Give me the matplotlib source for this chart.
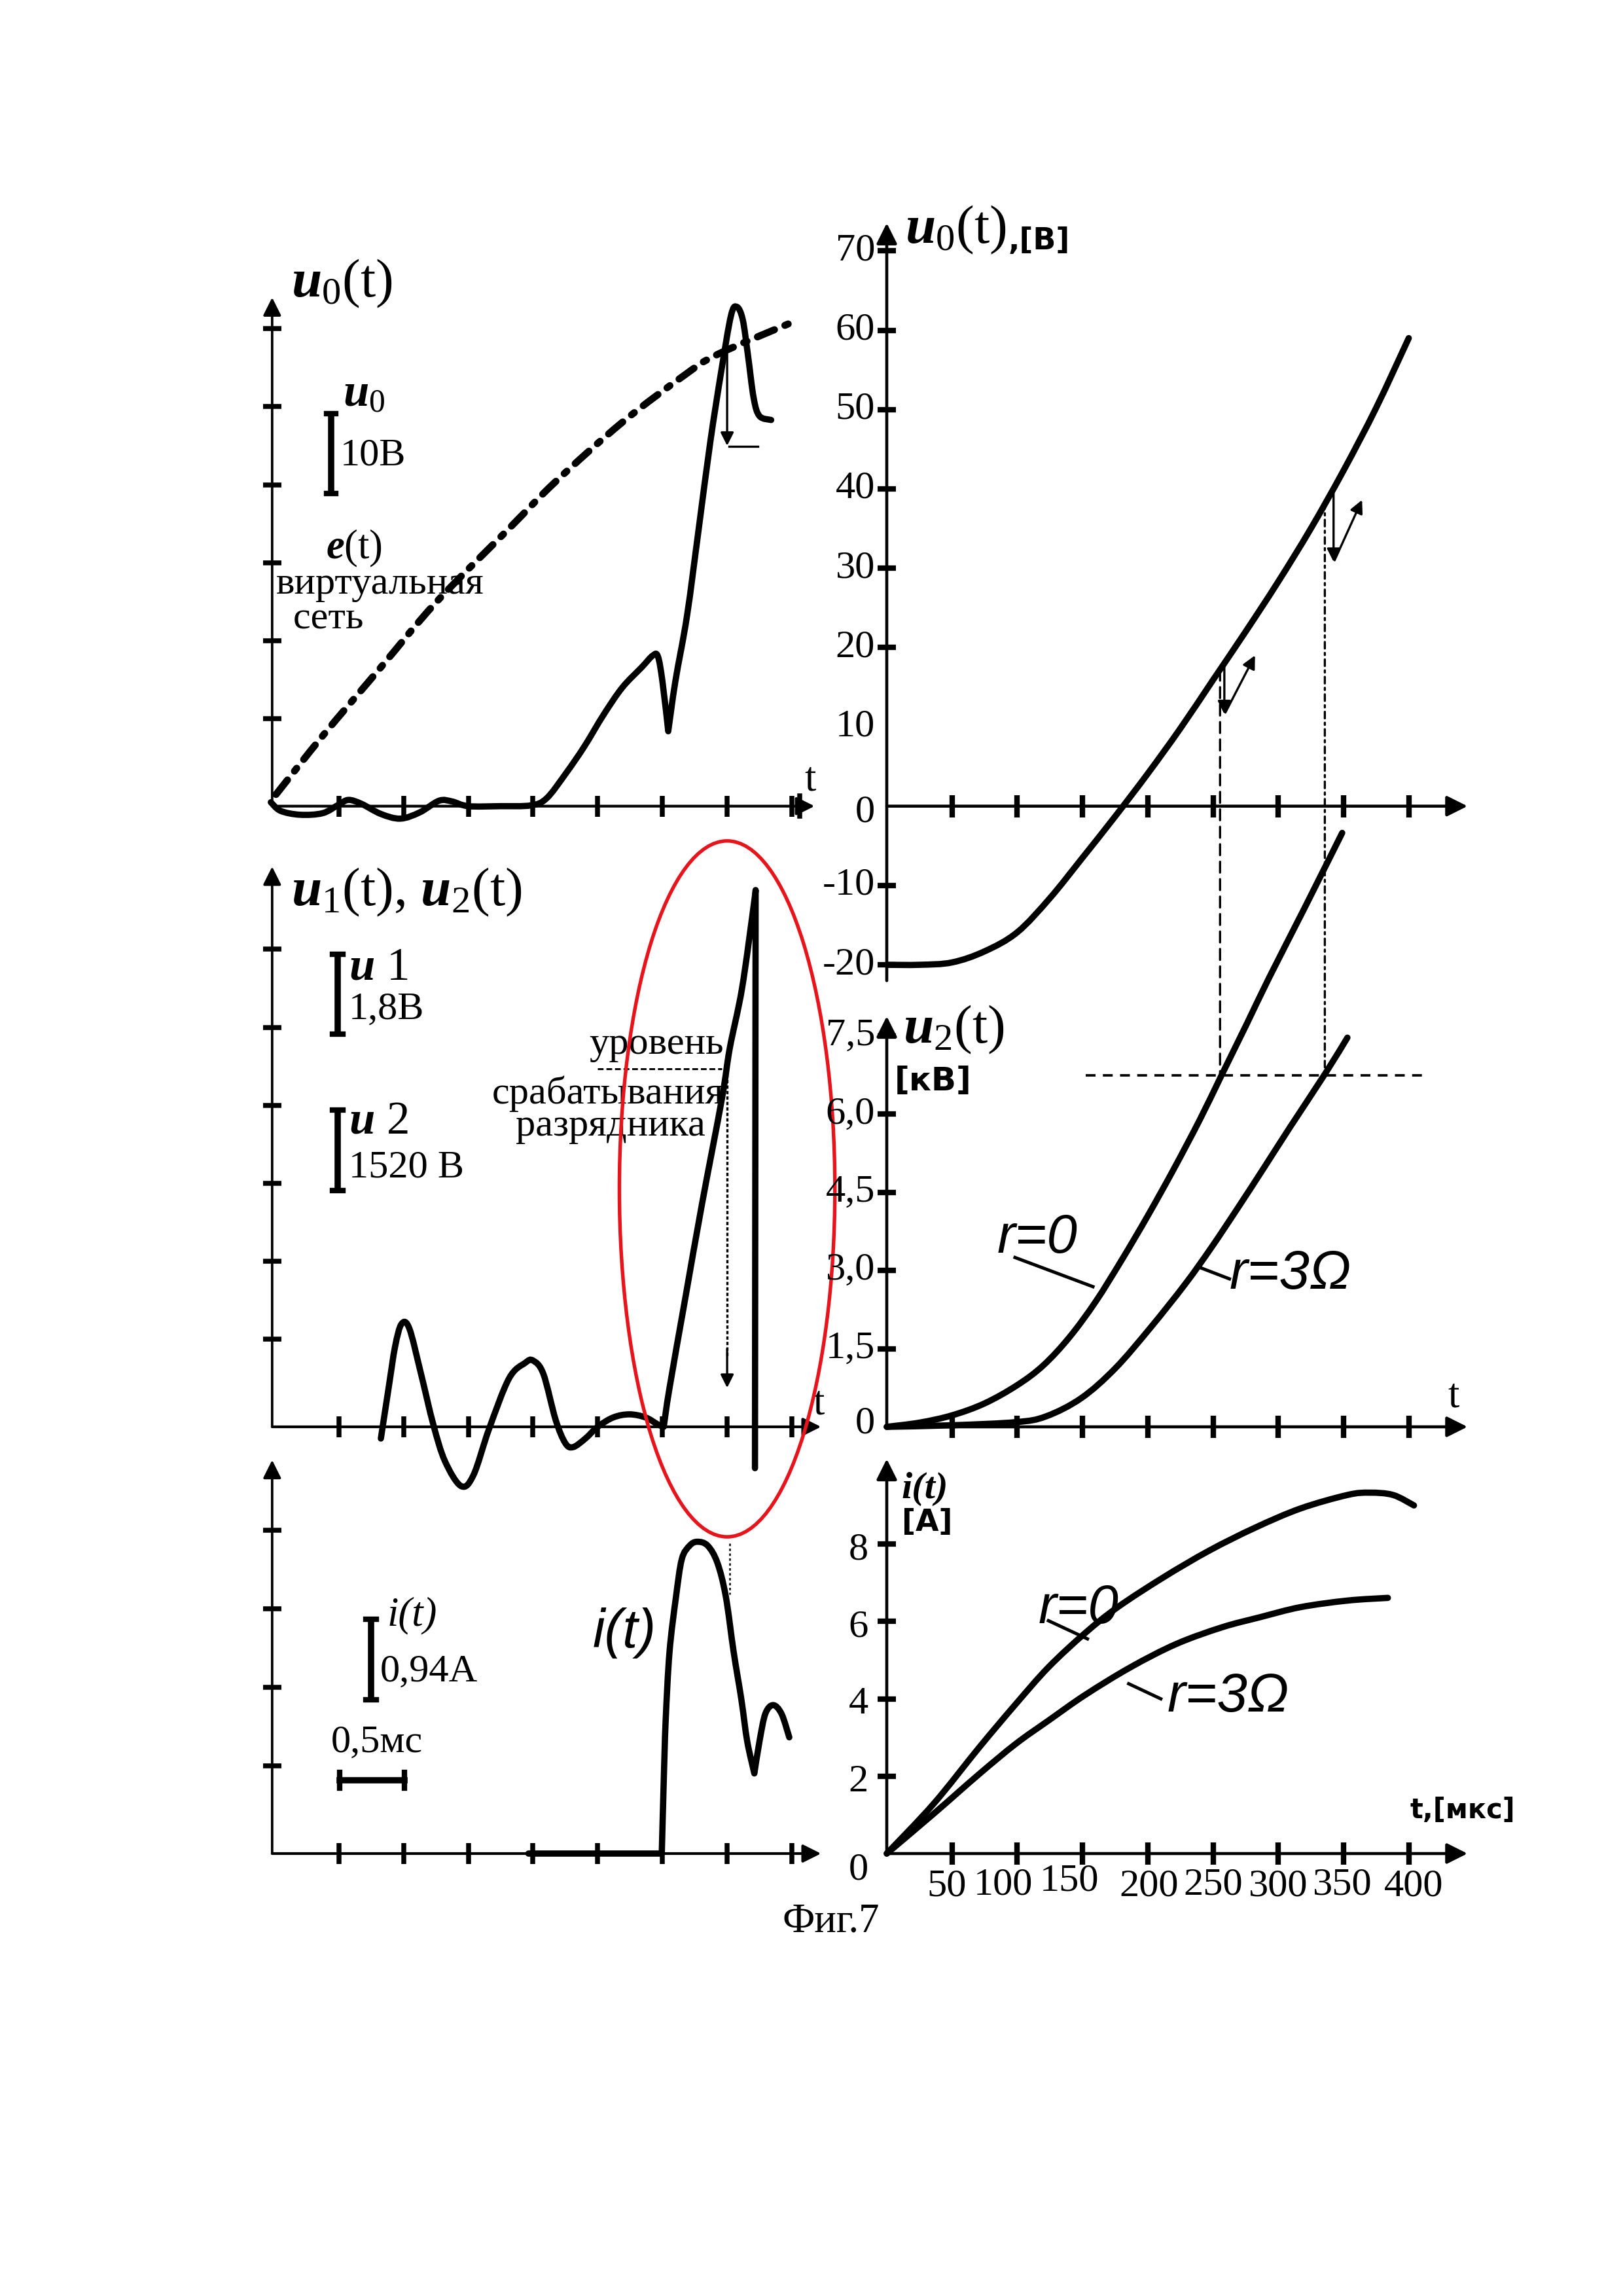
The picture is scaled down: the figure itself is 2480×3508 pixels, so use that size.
import numpy as np
import matplotlib
matplotlib.use("Agg")
import matplotlib.pyplot as plt
from matplotlib.patches import Ellipse, ConnectionPatch, PathPatch
from matplotlib.path import Path

plt.rcParams['font.family'] = ['Liberation Serif', 'DejaVu Serif']
plt.rcParams['mathtext.fontset'] = 'custom'
plt.rcParams['mathtext.rm'] = 'Liberation Serif'
plt.rcParams['mathtext.it'] = 'Liberation Serif:italic:bold'
plt.rcParams['mathtext.bf'] = 'Liberation Serif:bold'

# ---------------- data ----------------
# left column: x and y in tick units
u0_x = [-0.05, 0.1, 0.4, 0.75, 1.0, 1.15, 1.35, 1.65, 1.95, 2.25, 2.55, 2.75, 3.0, 3.5,
        3.97, 4.21, 4.5, 4.79, 5.09, 5.38, 5.68, 5.85, 5.93, 6.0, 6.09, 6.2, 6.38, 6.56,
        6.74, 6.91, 7.06, 7.15, 7.24, 7.32, 7.41, 7.5, 7.68]
u0_y = [0.05, -0.06, -0.11, -0.09, 0.02, 0.08, 0.03, -0.1, -0.16, -0.08, 0.07, 0.06, 0.0, 0.0,
        0.01, 0.1, 0.41, 0.76, 1.17, 1.52, 1.78, 1.93, 1.92, 1.6, 0.96, 1.6, 2.44, 3.55,
        4.67, 5.58, 6.29, 6.4, 6.24, 5.79, 5.23, 5.0, 4.95]
e_x = [0.03, 0.76, 1.62, 2.5, 3.62, 4.35, 5.38, 6.35, 6.85, 7.97]
e_y = [0.15, 0.91, 1.75, 2.61, 3.55, 4.16, 4.92, 5.53, 5.79, 6.19]

u12_x = [1.65, 1.77, 1.87, 1.97, 2.09, 2.27, 2.46, 2.64, 2.89, 3.08, 3.32, 3.63, 3.88, 4.0,
         4.16, 4.35, 4.5, 4.62, 4.81, 5.0, 5.24, 5.49, 5.74, 5.93, 6.02, 6.11, 6.36, 6.61,
         6.92, 7.04, 7.23, 7.41, 7.44, 7.43]
u12_y = [-0.15, 0.5, 1.03, 1.32, 1.26, 0.68, 0.03, -0.44, -0.76, -0.62, -0.03, 0.62, 0.82, 0.85,
         0.68, 0.09, -0.21, -0.26, -0.15, 0.0, 0.12, 0.16, 0.12, 0.03, 0.0, 0.5, 1.68, 2.85,
         4.21, 4.85, 5.62, 6.68, 6.88, -0.53]

il_x = [3.93, 5.99, 6.02, 6.05, 6.11, 6.21, 6.3, 6.42, 6.54, 6.7, 6.85, 6.98, 7.1, 7.22,
        7.31, 7.42, 7.5, 7.59, 7.71, 7.84, 7.96]
il_y = [0.0, 0.0, 0.91, 1.69, 2.57, 3.27, 3.75, 3.92, 3.97, 3.92, 3.7, 3.27, 2.57, 1.96,
        1.43, 1.02, 1.43, 1.78, 1.89, 1.78, 1.48]

left_xticks = [1, 2, 3, 4, 5, 6, 7, 8]

# right column: t in microseconds
u0r_t = [0, 25, 50, 75, 100, 125, 150, 175, 200, 225, 250, 275, 300, 325, 350, 375, 400]
u0r_v = [-20, -20, -19.7, -18.3, -15.9, -11.6, -6.5, -1.3, 4.1, 9.8, 15.9, 22.0, 28.3,
         35.0, 42.3, 50.2, 59.0]

u2_r0_t = [0, 25, 50, 75, 100, 120, 140, 160, 180, 200, 220, 240, 256, 276, 293, 320, 349]
u2_r0_kv = [0, 0.08, 0.22, 0.45, 0.8, 1.18, 1.72, 2.4, 3.2, 4.05, 4.95, 5.9, 6.72, 7.74,
            8.62, 9.95, 11.4]
u2_r3_t = [0, 50, 99, 122, 149, 175, 202, 229, 249, 269, 289, 309, 336, 353]
u2_r3_kv = [0, 0.03, 0.09, 0.2, 0.55, 1.12, 1.9, 2.75, 3.45, 4.2, 4.97, 5.75, 6.78, 7.47]

i_r0_t = [0, 36, 71, 99, 124, 152, 177, 212, 247, 282, 317, 353, 370, 388, 404]
i_r0_a = [0, 1.29, 2.75, 3.87, 4.82, 5.70, 6.37, 7.14, 7.83, 8.42, 8.92, 9.27, 9.33, 9.27, 9.0]
i_r3_t = [0, 36, 71, 99, 124, 152, 187, 222, 257, 286, 317, 353, 384]
i_r3_a = [0, 1.03, 2.06, 2.84, 3.44, 4.1, 4.82, 5.42, 5.85, 6.11, 6.37, 6.54, 6.61]

right_xticks = [50, 100, 150, 200, 250, 300, 350, 400]
right_xlabels = ['50', '100', '150', '200', '250', '300', '350', '400']
u0r_ticks = [70, 60, 50, 40, 30, 20, -10, -20]
u0r_labels = ['70', '60', '50', '40', '30', '20', '10', '0', '-10', '-20']
u0r_label_pos = [70, 60, 50, 40, 30, 20, 10, 0, -10, -20]
u2_ticks = [7.5, 6.0, 4.5, 3.0, 1.5]
u2_labels = ['7,5', '6,0', '4,5', '3,0', '1,5']
i_ticks = [8, 6, 4, 2]
i_labels = ['8', '6', '4', '2']

# ---------------- figure ----------------
W, H = 2480, 3508
fig = plt.figure(figsize=(W / 300, H / 300), dpi=300)
fig.patch.set_facecolor('white')


def panel(x0, y0, sx, sy, xlim, ylim):
    # x0, y0: pixel of data origin; sx, sy: pixels per data unit
    left = x0 + xlim[0] * sx
    right = x0 + xlim[1] * sx
    top = y0 - ylim[1] * sy
    bottom = y0 - ylim[0] * sy
    ax = fig.add_axes([left / W, 1 - bottom / H, (right - left) / W, (bottom - top) / H])
    ax.set_xlim(*xlim)
    ax.set_ylim(*ylim)
    ax.axis('off')
    return ax


def arrow(ax, start, end, lw=1.0, ms=16):
    ax.annotate('', xy=end, xytext=start,
                arrowprops=dict(arrowstyle='-|>', lw=lw, color='k', mutation_scale=ms,
                                shrinkA=0, shrinkB=0))


def smooth(ax, xs, ys, breaks=(), lw=2.3, ls='-'):
    # draw the read points as a smooth (Catmull-Rom / Bezier) path; sharp corners at breaks
    pts = np.column_stack([xs, ys]).astype(float)
    idx = [0] + sorted(breaks) + [len(pts) - 1]
    verts, codes = [pts[0]], [Path.MOVETO]
    for a, b in zip(idx[:-1], idx[1:]):
        seg = pts[a:b + 1]
        n = len(seg)
        for i in range(n - 1):
            p0 = seg[i - 1] if i > 0 else seg[i]
            p1, p2 = seg[i], seg[i + 1]
            p3 = seg[i + 2] if i + 2 < n else seg[i + 1]
            verts += [p1 + (p2 - p0) / 6, p2 - (p3 - p1) / 6, p2]
            codes += [Path.CURVE4] * 3
    ax.add_patch(PathPatch(Path(verts, codes), fill=False, ec='k', lw=lw, ls=ls,
                           capstyle='round', joinstyle='round'))


def scale_bar(ax, x, y0, y1, cap):
    ax.plot([x, x], [y0, y1], color='k', lw=2.3, solid_capstyle='butt')
    ax.plot([x - cap, x + cap], [y0, y0], color='k', lw=2.0)
    ax.plot([x - cap, x + cap], [y1, y1], color='k', lw=2.0)


SANS_I = dict(family='Liberation Sans', style='italic')

# ---- left column ----
LX0, LSX = 418.8, 98.9
ax_tl = panel(LX0, 1231.7, LSX, 119.2, (-0.4, 8.9), (-0.6, 7.3))
ax_ml = panel(LX0, 2180, LSX, 119.2, (-0.4, 9.0), (-1.6, 7.7))
ax_bl = panel(LX0, 2832, LSX, 120, (-0.4, 9.0), (-0.6, 5.3))

for ax, ytop, xend, nyt in [(ax_tl, 6.52, 8.35, 6), (ax_ml, 7.18, 8.45, 6), (ax_bl, 5.01, 8.45, 4)]:
    arrow(ax, (-0.03, 0), (-0.03, ytop), lw=0.9, ms=14)
    arrow(ax, (-0.03, 0), (xend, 0), lw=1.0, ms=14)
    ax.plot(left_xticks, np.zeros(len(left_xticks)), ls='none', marker='|', ms=7.5,
            mew=1.8, color='k')
    yt = [k + 0.12 for k in range(1, nyt + 1)]
    ax.plot(np.full(len(yt), -0.03), yt, ls='none', marker='_', ms=6.5, mew=1.8, color='k')

# top-left: u0(t) and e(t)
smooth(ax_tl, u0_x, u0_y, breaks=[24])
smooth(ax_tl, e_x, e_y, lw=2.6, ls=(0, (2.6, 1.6, 0.5, 1.6)))
ax_tl.plot([8.12, 8.12], [-0.13, 0.13], color='k', lw=1.8)
arrow(ax_tl, (7.0, 5.99), (7.0, 4.62), lw=0.8, ms=10)
ax_tl.plot([7.03, 7.47], [4.61, 4.61], color='k', lw=0.8)
ax_tl.text(0.26, 6.7, r'$u_0$(t)', fontsize=20, va='center')
ax_tl.text(1.06, 5.27, r'$u_0$', fontsize=17, va='center')
scale_bar(ax_tl, 0.88, 4.01, 5.03, 0.07)
ax_tl.text(1.02, 4.49, '10В', fontsize=14.5, va='center')
ax_tl.text(0.8, 3.3, r'$e$(t)', fontsize=15, va='center')
ax_tl.text(0.03, 2.84, 'виртуальная', fontsize=14.5, va='center')
ax_tl.text(0.29, 2.39, 'сеть', fontsize=14.5, va='center')
ax_tl.text(8.2, 0.33, 't', fontsize=15, va='center')

# middle-left: u1(t), u2(t)
smooth(ax_ml, u12_x, u12_y, breaks=[24, 32])
ax_ml.text(0.26, 6.85, r'$u_1$(t), $u_2$(t)', fontsize=20, va='center')
scale_bar(ax_ml, 0.98, 5.03, 6.06, 0.08)
ax_ml.text(1.15, 5.88, r'$u$ 1', fontsize=17, va='center')
ax_ml.text(1.15, 5.35, '1,8В', fontsize=14.5, va='center')
scale_bar(ax_ml, 0.98, 3.03, 4.06, 0.08)
ax_ml.text(1.15, 3.91, r'$u$ 2', fontsize=17, va='center')
ax_ml.text(1.15, 3.32, '1520 В', fontsize=14.5, va='center')
ax_ml.text(6.95, 4.9, 'уровень', fontsize=14.5, va='center', ha='right')
ax_ml.plot([5.0, 6.92], [4.59, 4.59], color='k', lw=0.7, linestyle=(0, (3, 1.5)))
ax_ml.text(6.95, 4.27, 'срабатывания', fontsize=14.5, va='center', ha='right')
ax_ml.text(6.66, 3.85, 'разрядника', fontsize=14.5, va='center', ha='right')
ax_ml.plot([7.0, 7.0], [4.59, 0.9], color='k', lw=0.8, linestyle=(0, (1.5, 1)))
arrow(ax_ml, (7.0, 1.0), (7.0, 0.5), lw=0.8, ms=10)
ax_ml.text(8.33, 0.29, 't', fontsize=15, va='center')
ax_ml.add_patch(Ellipse((7.0, 3.05), 3.33, 8.92, fill=False, ec='#e8141c', lw=1.3,
                        clip_on=False, zorder=5))

# bottom-left: i(t)
smooth(ax_bl, il_x, il_y, breaks=[1, 15])
ax_bl.plot([7.04, 7.04], [3.95, 3.3], color='k', lw=0.6, linestyle=(0, (1.5, 1.5)))
ax_bl.text(1.75, 3.03, 'i(t)', fontsize=15, style='italic', va='center')
scale_bar(ax_bl, 1.5, 1.96, 2.98, 0.08)
ax_bl.text(1.64, 2.31, '0,94А', fontsize=14.5, va='center')
ax_bl.text(0.88, 1.41, '0,5мс', fontsize=14.5, va='center')
ax_bl.plot([1.01, 2.01], [0.93, 0.93], color='k', lw=2.3)
ax_bl.plot([1.01, 1.01], [0.83, 1.03], color='k', lw=2.0)
ax_bl.plot([2.01, 2.01], [0.83, 1.03], color='k', lw=2.0)
ax_bl.text(4.92, 2.81, 'i(t)', fontsize=20, va='center', **SANS_I)

# ---- right column ----
RX0, RSX = 1355, 1.994
ax_tr = panel(RX0, 1231.7, RSX, 12.12, (-40, 460), (-26, 79))
ax_mr = panel(RX0, 2180, RSX, 79.6, (-40, 460), (-0.7, 12.2))
ax_br = panel(RX0, 2832, RSX, 59.1, (-40, 460), (-1.6, 10.9))

for ax, ybot, ytop in [(ax_tr, -22, 73.5), (ax_mr, 0, 7.88), (ax_br, 0, 10.2)]:
    arrow(ax, (0, ybot), (0, ytop), lw=1.1, ms=16)
    arrow(ax, (0, 0), (445, 0), lw=1.1, ms=16)
    ax.plot(right_xticks, np.zeros(len(right_xticks)), ls='none', marker='|', ms=8,
            mew=2.0, color='k')

ax_tr.plot(np.zeros(len(u0r_ticks)), u0r_ticks, ls='none', marker='_', ms=6.5, mew=2.0,
           color='k')
for lab, v in zip(u0r_labels, u0r_label_pos):
    ax_tr.text(-9, v - (0.8 if v == 0 else 0), lab, fontsize=14.5, ha='right', va='center')
smooth(ax_tr, u0r_t, u0r_v)
ax_tr.text(14, 72.6, r'$u_0$(t)', fontsize=20, va='center')
ax_tr.text(93, 71.2, ',[В]', fontsize=11, fontweight='bold', family='DejaVu Sans',
           va='center')
arrow(ax_tr, (258.7, 17.9), (258.7, 11.6), lw=0.8, ms=10)
arrow(ax_tr, (259.5, 11.8), (282.2, 19.0), lw=0.8, ms=10)
arrow(ax_tr, (342.4, 40.1), (342.4, 30.8), lw=0.8, ms=10)
arrow(ax_tr, (343.2, 31.0), (364.2, 38.6), lw=0.8, ms=10)

ax_mr.plot(np.zeros(len(u2_ticks)), u2_ticks, ls='none', marker='_', ms=6.5, mew=2.0,
           color='k')
for lab, v in zip(u2_labels, u2_ticks):
    ax_mr.text(-9, v, lab, fontsize=14.5, ha='right', va='center')
ax_mr.text(-9, 0.06, '0', fontsize=14.5, ha='right', va='center')
smooth(ax_mr, u2_r0_t, u2_r0_kv)
smooth(ax_mr, u2_r3_t, u2_r3_kv)
ax_mr.plot([152.6, 410], [6.75, 6.75], color='k', lw=0.9, linestyle=(0, (4, 3)))
ax_mr.text(12.7, 7.62, r'$u_2$(t)', fontsize=20, va='center')
ax_mr.text(6, 6.63, '[кВ]', fontsize=12, fontweight='bold', family='DejaVu Sans',
           va='center')
ax_mr.text(84.8, 3.62, 'r=0', fontsize=20, va='center', **SANS_I)
ax_mr.plot([98.3, 158], [3.25, 2.69], color='k', lw=1.2)
ax_mr.text(262.6, 2.93, 'r=3Ω', fontsize=20, va='center', **SANS_I)
ax_mr.plot([240.8, 262.6], [3.05, 2.84], color='k', lw=1.2)
ax_mr.text(430, 0.57, 't', fontsize=15, va='center')

ax_br.plot(np.zeros(len(i_ticks)), i_ticks, ls='none', marker='_', ms=6.5, mew=2.0,
           color='k')
for lab, v in zip(i_labels, i_ticks):
    ax_br.text(-14, v - 0.15, lab, fontsize=14.5, ha='right', va='center')
ax_br.text(-14, -0.43, '0', fontsize=14.5, ha='right', va='center')
label_x = [46, 89, 140, 201, 250, 300, 349, 404]
label_y = [-0.85, -0.82, -0.72, -0.85, -0.82, -0.85, -0.82, -0.85]
for lab, lx, ly in zip(right_xlabels, label_x, label_y):
    ax_br.text(lx, ly, lab, fontsize=14.5, ha='center', va='center')
smooth(ax_br, i_r0_t, i_r0_a)
smooth(ax_br, i_r3_t, i_r3_a)
ax_br.text(11.3, 9.42, 'i(t)', fontsize=14, style='italic', fontweight='bold', va='center')
ax_br.text(11.3, 8.56, '[A]', fontsize=11, fontweight='bold', family='DejaVu Sans',
           va='center')
ax_br.text(116, 6.32, 'r=0', fontsize=20, va='center', **SANS_I)
ax_br.plot([123.9, 153.8], [6.02, 5.55], color='k', lw=1.2)
ax_br.text(215, 4.04, 'r=3Ω', fontsize=20, va='center', **SANS_I)
ax_br.plot([185.4, 210], [4.39, 4.0], color='k', lw=1.2)
ax_br.text(401, 1.12, 't,[мкс]', fontsize=10, fontweight='bold', family='DejaVu Sans',
           va='center')

# dashed projections from u0(t) down to the u2 level
for t0, v0, ls in [(255.4, 17.2, (0, (5, 3))), (335.7, 38.3, (0, (3, 2, 1, 2)))]:
    con = ConnectionPatch(xyA=(t0, v0), coordsA=ax_tr.transData,
                          xyB=(t0, 6.75), coordsB=ax_mr.transData,
                          color='k', lw=0.8, linestyle=ls)
    fig.add_artist(con)

fig.text(1270 / W, 1 - 2936 / H, 'Фиг.7', fontsize=15, ha='center', va='center')

fig.savefig('out.png', dpi=300, facecolor='white')
